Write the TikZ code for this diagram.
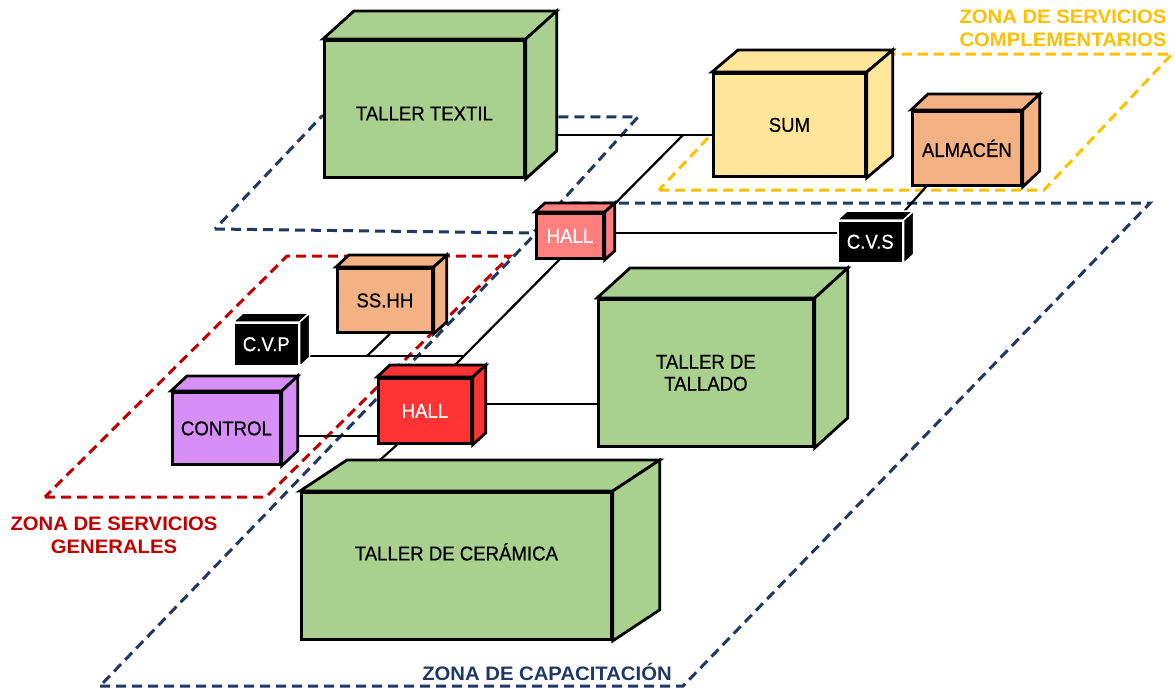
\documentclass[tikz,border=0pt]{standalone}
\usepackage{fontspec}
\setmainfont{Liberation Sans}
\newfontfamily\boxfont[FakeStretch=0.93,FakeBold=0.6]{Liberation Sans}
\newfontfamily\zonefont[FakeStretch=1.04]{Liberation Sans}
\usetikzlibrary{calc}
\pgfdeclarelayer{zones}
\pgfdeclarelayer{links}
\pgfsetlayers{zones,links,main}
\definecolor{boxgreen}{HTML}{A9D08E}
\definecolor{boxyellow}{HTML}{FFE699}
\definecolor{boxorange}{HTML}{F4B183}
\definecolor{boxpink}{HTML}{FF7F7F}
\definecolor{boxred}{HTML}{FF3333}
\definecolor{boxviolet}{HTML}{D68FF7}
\definecolor{zoneblue}{HTML}{1F3864}
\definecolor{zonered}{HTML}{C00000}
\definecolor{zoneyellow}{HTML}{FFC000}
\tikzset{
  cuboidface/.style={draw=black, line width=2.8pt, inner sep=0pt, align=center,
    font=\boxfont\fontsize{20}{22}\selectfont},
  greenbox/.style={cuboidface, fill=boxgreen},
  yellowbox/.style={cuboidface, fill=boxyellow},
  orangebox/.style={cuboidface, fill=boxorange},
  pinkbox/.style={cuboidface, fill=boxpink, text=white},
  redbox/.style={cuboidface, fill=boxred, text=white},
  violetbox/.style={cuboidface, fill=boxviolet},
  blackbox/.style={cuboidface, fill=black, draw=white, line width=1.5pt, text=white},
  zoneline/.style={line width=3pt, dash pattern=on 10pt off 6pt},
  zonelabel/.style={font=\zonefont\bfseries\fontsize{19.5}{23}\selectfont, align=center, inner sep=0pt},
  link/.style={draw=black, line width=2.2pt}
}
% #1 name, #2 x, #3 y, #4 width, #5 height, #6 dx, #7 dy, #8 style, #9 label
\newcommand{\mycube}[9]{%
  \node[#8, minimum width=#4pt, minimum height=#5pt, anchor=north west] (#1) at (#2,#3) {#9};
  \draw[#8] (#1.north west) -- ++(#6,#7) -- ([shift={(#6,#7)}]#1.north east) -- (#1.north east) -- cycle;
  \draw[#8] (#1.north east) -- ++(#6,#7) -- ([shift={(#6,#7)}]#1.south east) -- (#1.south east) -- cycle;
}
\begin{document}
\begin{tikzpicture}[x=1pt,y=-1pt]
\useasboundingbox (0,0) rectangle (1175,689);

% ---- zones ----
\begin{pgfonlayer}{zones}
\fill[white] (0,0) rectangle (1175,689);
\draw[zoneline, draw=zoneblue] (100,686) -- (683,686) -- (1150,203) -- (565,203) -- cycle;
\draw[zoneline, draw=zoneblue] (215,229) -- (533,233) -- (638,117) -- (322,116) -- cycle;
\draw[zoneline, draw=zonered] (45,497) -- (266,497) -- (510,256) -- (287,256) -- cycle;
\draw[zoneline, draw=zoneyellow] (659,190) -- (1044,190) -- (1172,54) -- (787,54) -- cycle;
\end{pgfonlayer}

\node[zonelabel, text=zoneyellow] (zyl) at (1063,28.5) {ZONA DE SERVICIOS\\COMPLEMENTARIOS};
\node[zonelabel, text=zonered] (zrl) at (114,535) {ZONA DE SERVICIOS\\GENERALES};
\node[zonelabel, text=zoneblue, anchor=base] (zbl) at (547,680) {ZONA DE CAPACITACIÓN};

% ---- boxes ----
\mycube{textil}{323}{39}{200}{137}{31}{-28}{greenbox}{\raisebox{-11.5pt}[0pt][0pt]{TALLER TEXTIL}}
\mycube{sum}{712}{72}{152}{103}{26}{-22}{yellowbox}{SUM}
\mycube{almacen}{911}{110}{109}{74}{17}{-16}{orangebox}{ALMACÉN}
\mycube{hallA}{535}{212}{67}{45}{10}{-9}{pinkbox}{HALL}
\mycube{cvs}{837}{220}{65}{42}{10}{-9}{blackbox}{C.V.S}
\mycube{sshh}{336}{267}{95}{64}{13}{-12}{orangebox}{SS.HH}
\mycube{cvp}{233}{322}{65}{43}{10}{-9}{blackbox}{C.V.P}
\mycube{control}{171}{391}{108}{72}{16}{-15}{violetbox}{CONTROL}
\mycube{hallB}{377}{377}{93}{65}{13}{-12}{redbox}{HALL}
\mycube{tallado}{597}{298}{215}{147}{33}{-30}{greenbox}{TALLER DE\\TALLADO}
\mycube{ceramica}{300}{491}{310}{147}{47}{-31}{greenbox}{\raisebox{5.5pt}[0pt][0pt]{TALLER DE CERÁMICA}}

% ---- connectors ----
\coordinate (spineTop) at (683,135);
\coordinate (spineBot) at (455,365);
\coordinate (cvpJoin) at (464,356);
\coordinate (sshhJoin) at (367,356);
\coordinate (cerJoin) at (380,460);
\begin{pgfonlayer}{links}
\draw[link] (textil.east |- 0,135) -- (sum.west |- 0,135);
\draw[link] (spineTop) -- (spineBot);
\draw[link] (hallA.east |- 0,233) -- (cvs.west |- 0,233);
\draw[link] ([shift={(1,-9)}]cvs.north east) -- ([xshift=15pt]almacen.south west);
\draw[link] (cvp.east |- 0,356) -- (cvpJoin);
\draw[link] ([xshift=54pt]sshh.south west) -- (sshhJoin);
\draw[link] (hallB.east |- 0,404) -- (tallado.west |- 0,404);
\draw[link] (control.east |- 0,436) -- (hallB.west |- 0,436);
\draw[link] (hallB.south -| 397,0) -- (cerJoin);
\end{pgfonlayer}
\end{tikzpicture}
\end{document}
